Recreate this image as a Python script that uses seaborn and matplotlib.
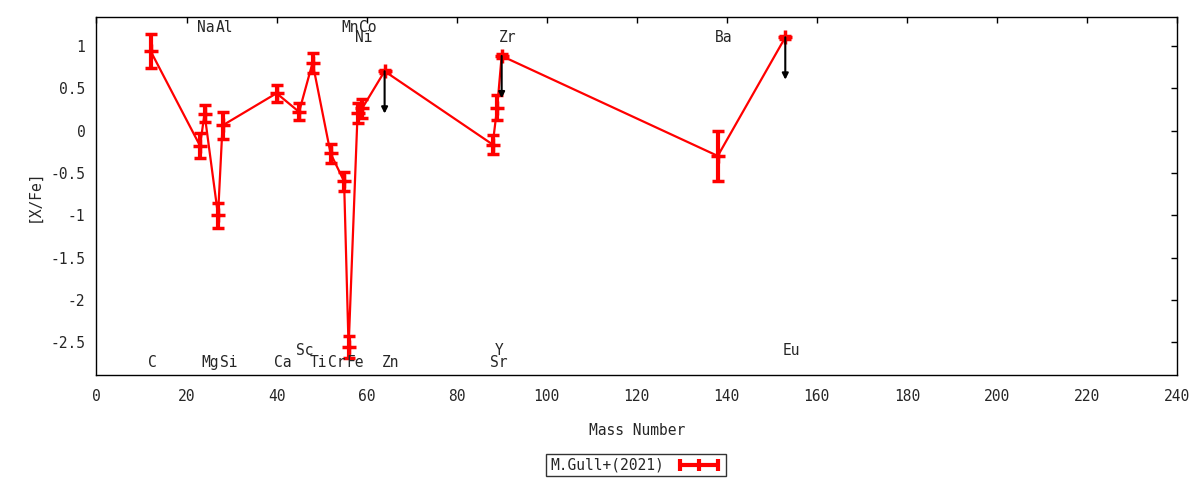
import numpy as np
import matplotlib
matplotlib.use('Agg')
import matplotlib.pyplot as plt
import seaborn as sns
from matplotlib.lines import Line2D
from matplotlib.ticker import FuncFormatter, MultipleLocator

# abundance pattern, M.Gull+(2021)
elements = ['C', 'Na', 'Mg', 'Al', 'Si', 'Ca', 'Sc', 'Ti', 'Cr', 'Mn',
            'Fe', 'Ni', 'Co', 'Zn', 'Sr', 'Y', 'Zr', 'Ba', 'Eu']
mass = [12, 23, 24, 27, 28, 40, 45, 48, 52, 55, 56, 58, 59, 64, 88, 89, 90, 138, 153]
xfe = [0.94, -0.18, 0.20, -1.00, 0.06, 0.44, 0.22, 0.80, -0.27, -0.60,
       -2.56, 0.21, 0.26, 0.70, -0.165, 0.27, 0.88, -0.30, 1.10]
xfe_err = [0.20, 0.15, 0.10, 0.15, 0.16, 0.10, 0.10, 0.12, 0.11, 0.11,
           0.13, 0.12, 0.11, 0.02, 0.11, 0.15, 0.02, 0.30, 0.02]
upper_limit = ['Zn', 'Zr', 'Eu']
limit_len = 0.5

# which row each element name sits in (b = bottom, t = top)
label_row = ['b1', 't1', 'b1', 't1', 'b1', 'b1', 'b2', 'b1', 'b1', 't1',
             'b1', 't2', 't1', 'b1', 'b1', 'b2', 't2', 't2', 'b2']
row_y = {'b1': -2.74, 'b2': -2.59, 't1': 1.21, 't2': 1.095}

sns.set_style('white')
plt.rcParams['font.family'] = ['DejaVu Sans Mono', 'DejaVu Sans']
plt.rcParams['axes.unicode_minus'] = False

fig = plt.figure(figsize=(12, 4.8), dpi=100)
ax = fig.add_axes([0.0804, 0.21875, 0.9004, 0.7459])

sns.lineplot(x=mass, y=xfe, color='red', lw=1.6, ax=ax, sort=False)
ax.errorbar(mass, xfe, yerr=xfe_err, fmt='+', color='red', ecolor='red',
            elinewidth=3, capsize=4.5, capthick=3, markersize=10, mew=2.5)

for el, m, v in zip(elements, mass, xfe):
    if el in upper_limit:
        ax.annotate('', xy=(m, v - limit_len), xytext=(m, v),
                    arrowprops=dict(arrowstyle='-|>', color='black', lw=1.5,
                                    mutation_scale=9, shrinkA=0, shrinkB=0))

for el, m, r in zip(elements, mass, label_row):
    ax.text(m - 0.6, row_y[r], el, ha='left', va='center', fontsize=10.5)

ax.set_xlim(0, 240)
ax.set_ylim(-2.885, 1.34)
ax.xaxis.set_major_locator(MultipleLocator(20))
ax.yaxis.set_major_locator(MultipleLocator(0.5))
fmt = FuncFormatter(lambda v, p: '%g' % round(v, 2))
ax.xaxis.set_major_formatter(fmt)
ax.yaxis.set_major_formatter(fmt)
ax.tick_params(direction='in', length=4, width=1, top=True, right=True,
               labelsize=10.5, color='black')
ax.tick_params(axis='x', pad=10)
ax.tick_params(axis='y', pad=8)
for s in ax.spines.values():
    s.set_color('black')
    s.set_linewidth(1)

ax.set_xlabel('Mass Number', fontsize=10.5, labelpad=14)
ax.set_ylabel('[X/Fe]', fontsize=10.5, labelpad=6)

# gnuplot-style key sample: horizontal bar with caps
key = Line2D([], [], color='red', lw=3, marker='|', markersize=9, mew=3)
leg = ax.legend([key], ['M.Gull+(2021)'], loc='center', bbox_to_anchor=(0.53, 0.031),
                bbox_transform=fig.transFigure, markerfirst=False, numpoints=3,
                frameon=True, fancybox=False, fontsize=10.5,
                handlelength=3.2, borderpad=0.25, handletextpad=0.8)
leg.get_frame().set_edgecolor('black')
leg.get_frame().set_linewidth(1)

fig.savefig('out.png', dpi=100)
